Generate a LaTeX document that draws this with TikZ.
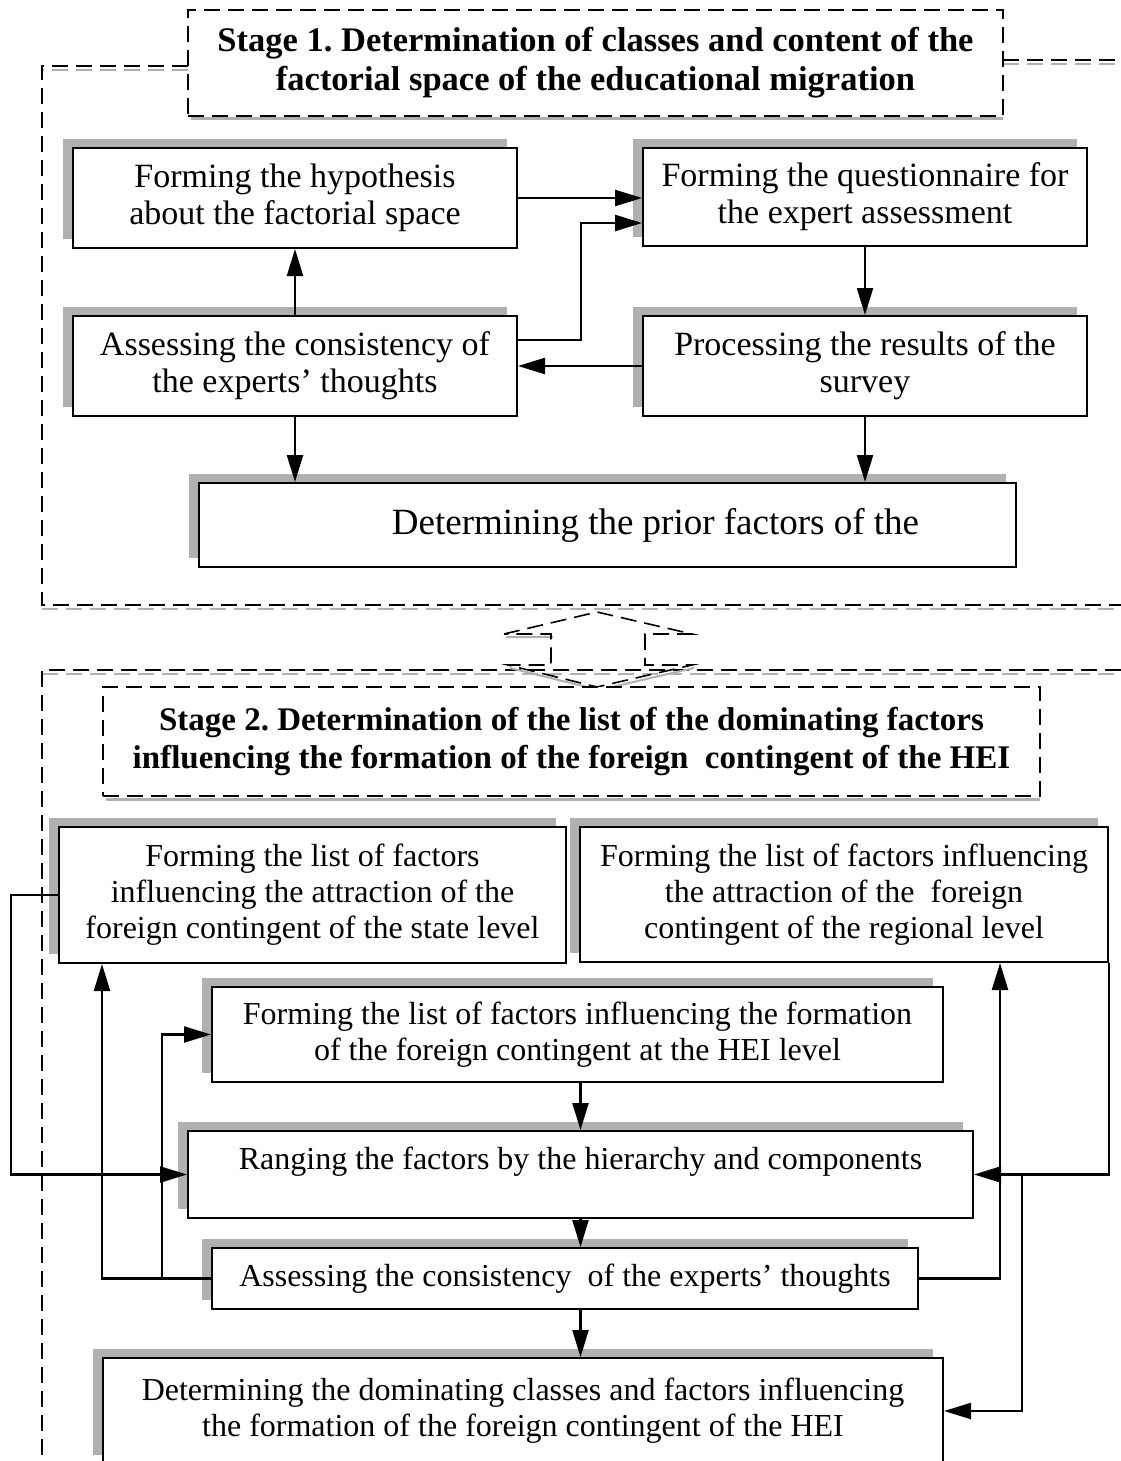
\documentclass[tikz,border=0pt]{standalone}
\usepackage{fontspec}
\setmainfont{Liberation Serif}
\usetikzlibrary{arrows.meta,shadows}
\frenchspacing

\begin{document}
\begin{tikzpicture}[x=1pt,y=-1pt,
  box/.style={draw,line width=2pt,fill=white,inner sep=0pt,align=center,
    general shadow={shadow xshift=-10pt,shadow yshift=9pt,fill=black!31,opacity=1}},
  title/.style={draw,line width=1.6pt,dash pattern=on 16pt off 8pt,fill=white,
    inner sep=0pt,align=center,font=\bfseries\fontsize{34.5}{39}\selectfont},
  arr/.style={line width=2.3pt,-{Triangle[length=27pt,width=16pt]}},
  frame/.style={line width=1.6pt,dash pattern=on 16pt off 8pt},
  frameshade/.style={frame,black!31},
  one/.style={font=\fontsize{34}{37}\selectfont},
  two/.style={font=\fontsize{32}{36}\selectfont}]
  \useasboundingbox (0,0) rectangle (1121,1461);
  \clip (0,0) rectangle (1121,1461);

  % stage 1 frame
  \draw[frameshade] (188,70) -- (42,70);
  \draw[frameshade] (1003,64) -- (1121,64);
  \draw[frameshade] (42,609) -- (1121,609);
  \draw[frame] (188,66) -- (42,66) -- (42,605) -- (1121,605);
  \draw[frame] (1003,60) -- (1121,60);

  % stage 2 frame
  \draw[frameshade] (42,674) -- (1121,674);
  \draw[frame] (1121,670) -- (42,670) -- (42,1461);

  % double arrow between the stages
  \draw[line width=2pt,black!31,shift={(2,3)}] (504,634) -- (551,634) (508,665) -- (597,687) -- (692,665);
  \draw[frame] (504,634) -- (597,612) -- (692,634) -- (645,634) -- (645,665) -- (692,665)
    -- (597,687) -- (508,665) -- (551,665) -- (551,634) -- cycle;

  % stage 1
  \draw[line width=3pt,black!31] (191,119) -- (1003,119);
  \node[title,minimum width=815,minimum height=106] (st1) at (595.5,63)
    {Stage 1. Determination of classes and content of the\\factorial space of the educational migration};

  \node[box,one,minimum width=444,minimum height=100] (hyp) at (295,198)
    {Forming the hypothesis\\about the factorial space};
  \node[box,one,minimum width=444,minimum height=98] (quest) at (865,197)
    {Forming the questionnaire for\\the expert assessment};
  \node[box,one,minimum width=444,minimum height=100] (cons1) at (295,366)
    {Assessing the consistency of\\the experts’ thoughts};
  \node[box,one,minimum width=444,minimum height=100] (proc) at (865,366)
    {Processing the results of the\\survey};
  \node[box,font=\fontsize{37}{40}\selectfont,minimum width=817,minimum height=84] (prior) at (607.5,525)
    {\hspace*{96pt}Determining the prior factors of the};

  \draw[arr] (hyp.east) -- (hyp.east -| quest.west);
  \draw[arr] ([yshift=26pt]cons1.east) -- ++(63,0) |- ([yshift=-26pt]quest.west);
  \draw[arr] (proc.west) -- (cons1.east);
  \draw[arr] (cons1.north) -- (hyp.south);
  \draw[arr] (quest.south) -- (proc.north);
  \draw[arr] (cons1.south) -- (cons1.south |- prior.north);
  \draw[arr] (proc.south) -- (proc.south |- prior.north);

  % stage 2
  \draw[line width=3pt,black!31] (106,799) -- (1040,799);
  \node[title,font=\bfseries\fontsize{33}{38}\selectfont,minimum width=937,minimum height=109] (st2) at (571.5,741.5)
    {Stage 2. Determination of the list of the dominating factors\\influencing the formation of the foreign\ \ contingent of the HEI};

  \node[box,two,minimum width=507,minimum height=136] (state) at (312.5,895)
    {Forming the list of factors\\influencing the attraction of the\\foreign contingent of the state level};
  \node[box,two,minimum width=528,minimum height=135] (region) at (844,894.5)
    {Forming the list of factors influencing\\the attraction of the\ \ foreign\\contingent of the regional level};
  \node[box,two,minimum width=731,minimum height=95] (hei) at (577.5,1034.5)
    {Forming the list of factors influencing the formation\\of the foreign contingent at the HEI level};
  \node[box,two,minimum width=785,minimum height=87,text height=24pt,text depth=35pt] (rang) at (580.5,1174.5)
    {Ranging the factors by the hierarchy and components};
  \node[box,two,minimum width=706,minimum height=61] (cons2) at (565,1278.5)
    {Assessing the consistency\ \ of the experts’ thoughts};
  \node[box,two,minimum width=840,minimum height=106] (dom) at (523,1411)
    {Determining the dominating classes and factors influencing\\the formation of the foreign contingent of the HEI};

  \draw[arr] (state.west) -- ++(-47,0) |- (rang.west);
  \draw[arr] (cons2.west) -| ([xshift=44pt]state.south west);
  \draw[arr] ([xshift=-49pt]cons2.west) |- (hei.west);
  \draw[arr] (rang.north |- hei.south) -- (rang.north);
  \draw[arr] (rang.south) -- (rang.south |- cons2.north);
  \draw[arr] (rang.south |- cons2.south) -- (rang.south |- dom.north);
  \draw[arr] (region.south east) |- (rang.east);
  \draw[arr] (cons2.east) -| ([xshift=-109pt]region.south east);
  \draw[arr] ([xshift=48pt]rang.east) |- (dom.east);
\end{tikzpicture}
\end{document}
